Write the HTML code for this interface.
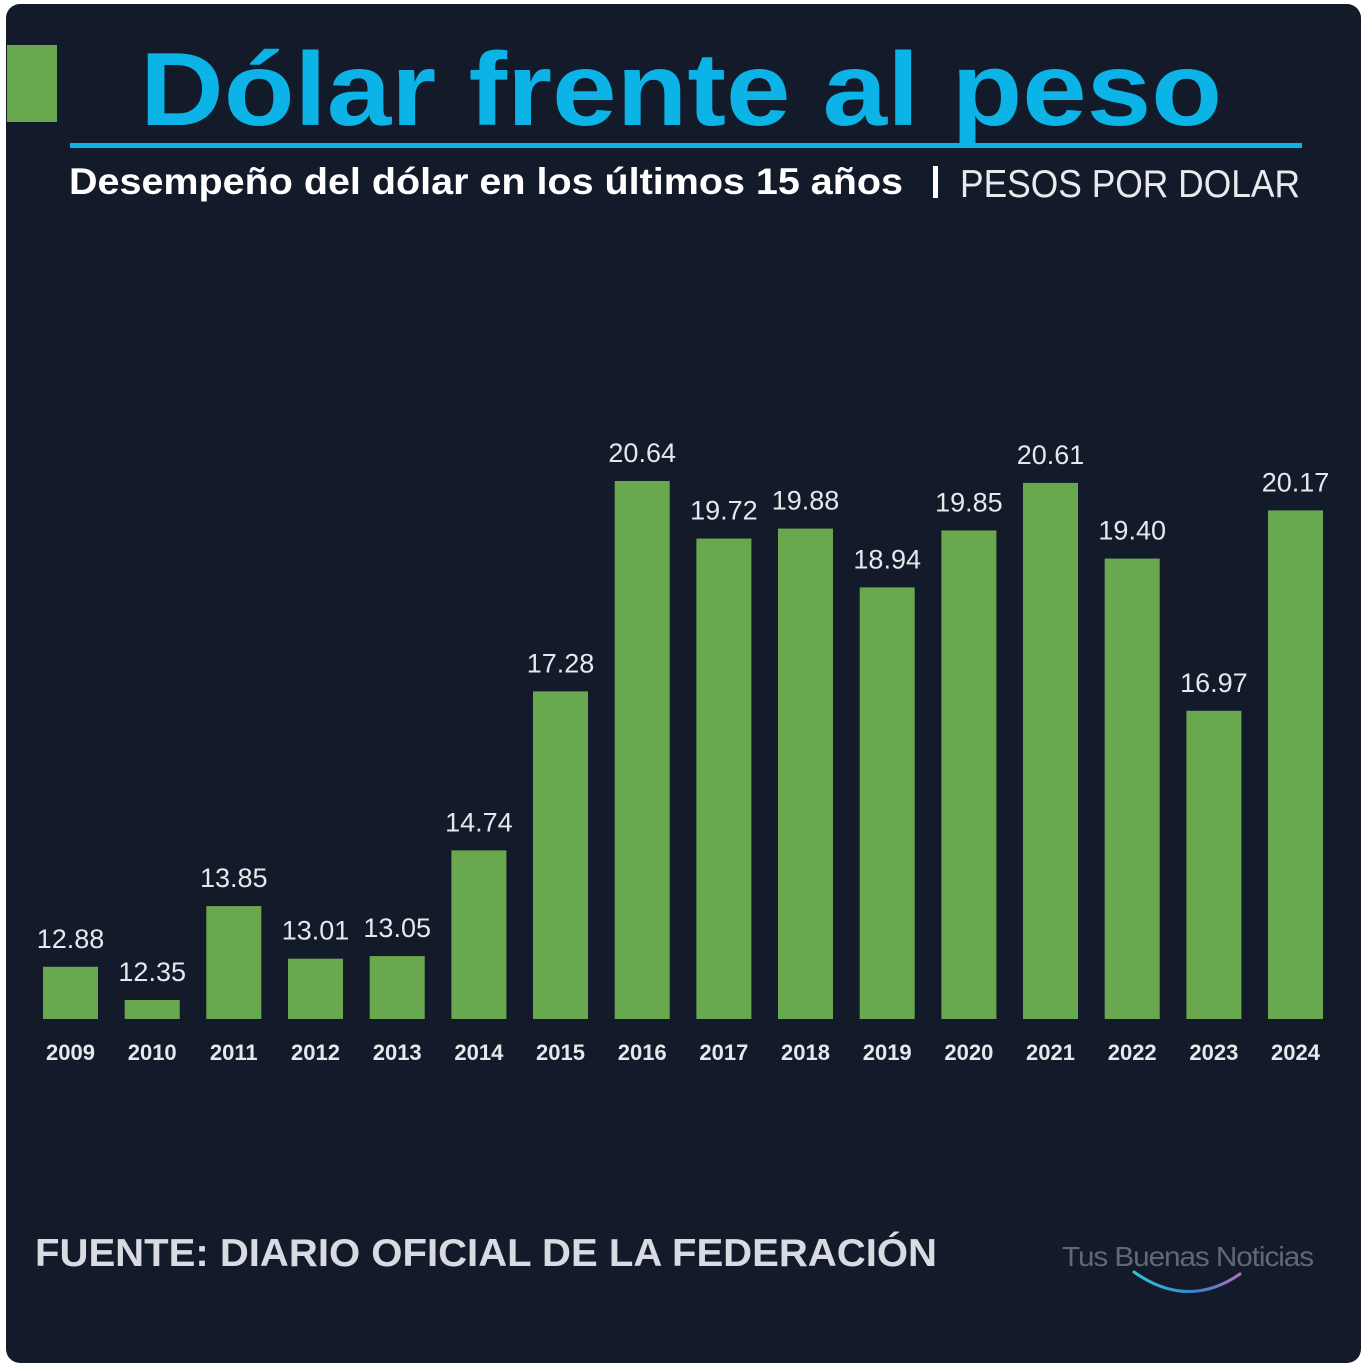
<!DOCTYPE html>
<html><head><meta charset="utf-8"><style>
html,body{margin:0;padding:0;background:#fff;}
svg{display:block}
text{font-family:"Liberation Sans",sans-serif}
</style></head><body>
<svg width="1362" height="1364" viewBox="0 0 1362 1364" xmlns="http://www.w3.org/2000/svg">
<defs>
<linearGradient id="sm" x1="0" x2="1"><stop offset="0" stop-color="#2fc6d8"/><stop offset="0.6" stop-color="#3b7fd0"/><stop offset="1" stop-color="#b36fc6"/></linearGradient>
</defs>
<rect x="0" y="0" width="1362" height="1364" fill="#ffffff"/>
<rect x="6" y="4" width="1355" height="1359" rx="14" fill="#131b2a"/>
<rect x="7" y="45" width="50" height="77" fill="#6aa84f"/>
<text x="140" y="125" font-size="104" font-weight="bold" fill="#0cb3e6" textLength="1082" lengthAdjust="spacingAndGlyphs">Dólar frente al peso</text>
<rect x="70" y="143" width="1232" height="5" fill="#0cb3e6"/>
<text x="69" y="194" font-size="37" font-weight="bold" fill="#ffffff" textLength="834" lengthAdjust="spacingAndGlyphs">Desempeño del dólar en los últimos 15 años</text>
<rect x="933" y="166" width="5" height="32" fill="#ffffff"/>
<text x="960" y="197" font-size="39" fill="#e8eaee" textLength="340" lengthAdjust="spacingAndGlyphs">PESOS POR DOLAR</text>
<g fill="#6aa84f" id="bars"></g>
<g id="lbl"></g>
<text x="35" y="1266" font-size="39" font-weight="bold" fill="#d8dce2" textLength="902" lengthAdjust="spacingAndGlyphs">FUENTE: DIARIO OFICIAL DE LA FEDERACIÓN</text>
<text x="1062" y="1266" font-size="28" fill="#5e6877" textLength="251" lengthAdjust="spacingAndGlyphs" letter-spacing="-1">Tus Buenas Noticias</text>
<path d="M1134 1272 Q1188 1310 1240 1274" stroke="url(#sm)" stroke-width="3" fill="none" stroke-linecap="round"/>
<script>
var vals=[12.88,12.35,13.85,13.01,13.05,14.74,17.28,20.64,19.72,19.88,18.94,19.85,20.61,19.40,16.97,20.17];
var b=document.getElementById('bars'),l=document.getElementById('lbl'),ns='http://www.w3.org/2000/svg';
vals.forEach(function(v,i){
 var x=43+i*81.67, top=1019-(v-12.046)*62.6;
 var r=document.createElementNS(ns,'rect');
 r.setAttribute('x',x.toFixed(1));r.setAttribute('y',top.toFixed(1));r.setAttribute('width',55);r.setAttribute('height',(1019-top).toFixed(1));
 b.appendChild(r);
 var t=document.createElementNS(ns,'text');
 t.setAttribute('x',(x+27.5).toFixed(1));t.setAttribute('y',(top-19).toFixed(1));t.setAttribute('text-anchor','middle');
 t.setAttribute('font-size','27');t.setAttribute('fill','#e6e8ec');t.textContent=v.toFixed(2);
 l.appendChild(t);
 var y=document.createElementNS(ns,'text');
 y.setAttribute('x',(x+27.5).toFixed(1));y.setAttribute('y','1060');y.setAttribute('text-anchor','middle');
 y.setAttribute('font-size','22');y.setAttribute('font-weight','bold');y.setAttribute('fill','#e6e8ec');y.textContent=2009+i;
 l.appendChild(y);
});
</script>
</svg>
</body></html>
